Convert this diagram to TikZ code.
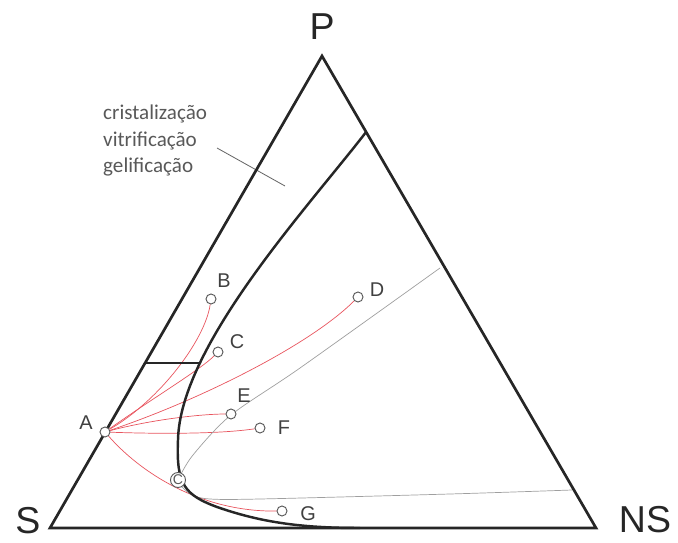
\documentclass[tikz,border=0pt]{standalone}
\usepackage{fontspec}
\setmainfont{Liberation Sans}
\newfontfamily\calib{Carlito}
\usepackage{xcolor}
\usepackage{tikz}
\usetikzlibrary{positioning, calc, backgrounds}
\definecolor{tiered}{RGB}{232,84,94}

\begin{document}
\begin{tikzpicture}[x=0.03cm, y=-0.03cm,
          border/.style={line width=2.3pt, black!85, line join=miter},
          bound/.style={line width=2.1pt, black!85},
          tieln/.style={line width=0.6pt, gray!75},
          redln/.style={line width=0.6pt, tiered},
          pt/.style={draw=black!65, fill=white, circle, line width=0.8pt, inner sep=0pt, minimum size=0.3cm},
          crit/.style={draw=black!65, fill=white, circle, line width=0.8pt, inner sep=0pt, minimum size=0.45cm, font=\fontsize{12}{12}\selectfont, text=black!65},
          lbl/.style={font=\fontsize{17}{20}\selectfont, text=black!75},
          vtx/.style={font=\fontsize{32}{36}\selectfont, text=black!85},
          txt/.style={font=\calib\fontsize{18}{22}\selectfont, text=black!65, anchor=base west, inner sep=0pt},
        ]
        \useasboundingbox (0,0) rectangle (678,543);
        \coordinate (S)  at (50,528);
        \coordinate (NS) at (596,528);
        \coordinate (P)  at (322,56);
        \coordinate (top) at ($(P)!0.161!(NS)$);
        \coordinate (tL)  at ($(S)!0.35!(P)$);
        % compositions
        \node[pt] (A) at (105,432) {};
        \node[pt] (B) at (211,299) {};
        \node[pt] (C) at (218,352) {};
        \node[pt] (D) at (358,297) {};
        \node[pt] (E) at (231,414) {};
        \node[pt] (F) at (260,428) {};
        \node[pt] (G) at (282,511) {};
        \node[crit] (K) at (178,480) {C};
        \node[lbl] at ($(A)+(-19,-9)$) {A};
        \node[lbl] at ($(B)+(13,-18)$) {B};
        \node[lbl] at ($(C)+(19,-10)$) {C};
        \node[lbl] at ($(D)+(19,-7)$) {D};
        \node[lbl] at ($(E)+(13,-18)$) {E};
        \node[lbl] at ($(F)+(24,0)$) {F};
        \node[lbl] at ($(G)+(26,3)$) {G};
        \node[vtx] (Plbl)  at (322,27) {P};
        \node[vtx] (Slbl)  at (28,521) {S};
        \node[vtx] (NSlbl) at (645,520) {NS};
        \node[txt] (t1) at (103,120) {cristalização};
        \node[txt] (t2) at (103,147) {vitrificação};
        \node[txt] (t3) at (103,173) {gelificação};
        \begin{scope}[on background layer]
        % paths from A
        \draw[redln] (A) .. controls (160,400) and (205,340) .. (B);
        \draw[redln] (A) .. controls (150,400) and (200,370) .. (C);
        \draw[redln] (A) .. controls (200,400) and (310,345) .. (D);
        \draw[redln] (A) .. controls (150,420) and (200,414) .. (E);
        \draw[redln] (A) .. controls (160,434) and (220,434) .. (F);
        \draw[redln] (A) .. controls (140,472) and (200,512) .. (G);
        % tie lines
        \draw[tieln] plot[smooth] coordinates {(179,478) (193,455) (231,415) (300,368) (440,268)};
        \draw[tieln] plot[smooth] coordinates {(181,486) (192,495) (210,499) (260,499) (450,494) (572,490)};
        \draw[line width=0.7pt, black!60] (217,148) -- (285,186);
        % boundaries
        \draw[border] (S) -- (P) -- (NS) -- cycle;
        \draw[bound] (tL) -- ++(55,0);
        \draw[bound] (top) .. controls (310,205) and (180,345) .. (178,440)
                           .. controls (176,485) and (185,495) .. (217,507)
                           .. controls (260,522) and (300,528) .. (360,528);
        \end{scope}
        \end{tikzpicture}
\end{document}
